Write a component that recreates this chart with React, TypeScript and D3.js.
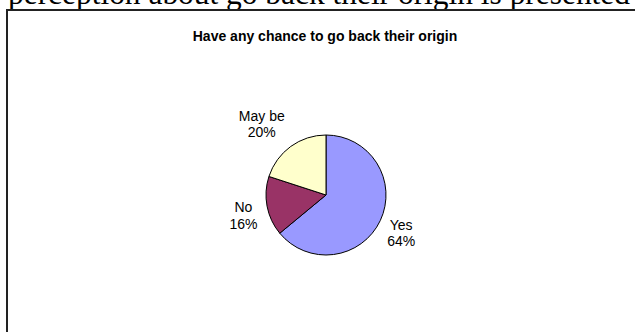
import React from "react";
import * as d3 from "d3";

const categories = ["Yes", "No", "May be"];
const values = [64, 16, 20];
const colors = ["#9999FF", "#993366", "#FFFFCC"];
const title = "Have any chance to go back their origin";
const pageText = "perception about go back their origin is presented";

// layout-only nudges for label boxes (Excel-style placement)
const labelNudge = [
  { dx: 1, dy: 0 },
  { dx: -2, dy: 2 },
  { dx: -16, dy: -8 },
];

export default function App() {
  const W = 635;
  const H = 332;
  const cx = 326;
  const cy = 195;
  const r = 60;
  const data = categories.map((c, i) => ({ c, v: values[i], i }));
  const total = d3.sum(values);
  const pie = d3
    .pie<any>()
    .sort(null)
    .value((d) => d.v)
    .startAngle(0)
    .endAngle(2 * Math.PI);
  const arcs = pie(data);
  const arc = d3.arc<any>().innerRadius(0).outerRadius(r);
  const labelArc = d3.arc<any>().innerRadius(82).outerRadius(82);

  return (
    <svg
      width={W}
      height={H}
      style={{ position: "absolute", left: 0, top: 0, background: "#fff" }}
    >
      <text
        x={8}
        y={3.5}
        fontFamily="'Liberation Serif', 'Times New Roman', serif"
        fontSize={31}
        fill="#000"
        textLength={622}
        lengthAdjust="spacingAndGlyphs"
      >
        {pageText}
      </text>
      <path
        d={`M7,${H + 5} L7,10 L${W + 5},10`}
        fill="none"
        stroke="#222"
        strokeWidth={2}
      />
      <text
        x={325}
        y={40.7}
        textAnchor="middle"
        fontFamily="'Liberation Sans', Arial, sans-serif"
        fontWeight="bold"
        fontSize={14}
        fill="#000"
      >
        {title}
      </text>
      <g transform={`translate(${cx},${cy})`}>
        {arcs.map((a, i) => (
          <path
            key={i}
            d={arc(a) as string}
            fill={colors[i]}
            stroke="#000"
            strokeWidth={1}
          />
        ))}
        {arcs.map((a, i) => {
          const [lx, ly] = labelArc.centroid(a);
          const x = lx + labelNudge[i].dx;
          const y = ly + labelNudge[i].dy;
          const pct = Math.round((a.data.v / total) * 100) + "%";
          return (
            <text
              key={"l" + i}
              textAnchor="middle"
              fontFamily="'Liberation Sans', Arial, sans-serif"
              fontSize={14}
              fill="#000"
            >
              <tspan x={x} y={y}>
                {a.data.c}
              </tspan>
              <tspan x={x} y={y + 16.5}>
                {pct}
              </tspan>
            </text>
          );
        })}
      </g>
    </svg>
  );
}
